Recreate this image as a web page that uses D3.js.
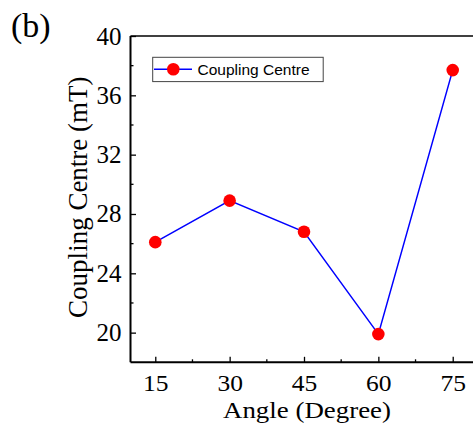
<!DOCTYPE html>
<html>
<head>
<meta charset="utf-8">
<script src="https://cdn.jsdelivr.net/npm/d3@7"></script>
<style>
  html, body { margin: 0; padding: 0; background: #fff; }
  svg { display: block; }
</style>
</head>
<body>
<svg id="chart" width="473" height="430"></svg>
<script>
const angles = [15, 30, 45, 60, 75];
const couplingCentre = [26.1, 28.9, 26.8, 19.9, 37.7];
const xTicks = [15, 30, 45, 60, 75];
const xMinorTicks = [22.5, 37.5, 52.5, 67.5];
const yTicks = [20, 24, 28, 32, 36, 40];
const yMinorTicks = [22, 26, 30, 34, 38];
const seriesName = "Coupling Centre";
const panelLabel = "(b)";
const xTitle = "Angle (Degree)";
const yTitle = "Coupling Centre (mT)";

(function () {
const svg = d3.select("#chart");
const mL = 130.5, mR = 477.5, mT = 36, mB = 362.3;
const x = d3.scaleLinear().domain([10, 80]).range([mL, mR]);
const y = d3.scaleLinear().domain([18, 40]).range([mB, mT]);
const serif = "'Liberation Serif', 'Times New Roman', serif";

// frame top line
svg.append("line").attr("x1", mL).attr("x2", mR).attr("y1", mT).attr("y2", mT)
  .attr("stroke", "#000").attr("stroke-width", 1.6);

// x axis
const xAxis = svg.append("g").attr("transform", `translate(0,${mB})`)
  .call(d3.axisBottom(x).tickValues(xTicks).tickSize(-5.5).tickPadding(0).tickFormat(d3.format("d")));
xAxis.select(".domain").attr("stroke-width", 2).attr("d", `M${mL},0H${mR}`);
xAxis.selectAll(".tick line").attr("stroke-width", 1.3);
xAxis.selectAll(".tick text").attr("font-family", serif).attr("font-size", 23.5).attr("fill", "#000")
  .attr("y", 29.2).attr("dy", null)
  .attr("textLength", 25.5).attr("lengthAdjust", "spacingAndGlyphs");
svg.append("g").selectAll("line").data(xMinorTicks).join("line")
  .attr("x1", d => x(d)).attr("x2", d => x(d)).attr("y1", mB).attr("y2", mB - 3)
  .attr("stroke", "#000").attr("stroke-width", 1.3);

// y axis
const yAxis = svg.append("g").attr("transform", `translate(${mL},0)`)
  .call(d3.axisLeft(y).tickValues(yTicks).tickSize(-5.5).tickPadding(9).tickFormat(d3.format("d")));
yAxis.select(".domain").attr("stroke-width", 2).attr("d", `M0,${mT}V${mB}`);
yAxis.selectAll(".tick line").attr("stroke-width", 1.3);
yAxis.selectAll(".tick text").attr("font-family", serif).attr("font-size", 25).attr("fill", "#000");
svg.append("g").selectAll("line").data(yMinorTicks).join("line")
  .attr("x1", mL).attr("x2", mL + 3).attr("y1", d => y(d)).attr("y2", d => y(d))
  .attr("stroke", "#000").attr("stroke-width", 1.3);

// titles
svg.append("text").attr("x", (x(15) + x(75)) / 2 + 3).attr("y", 418)
  .attr("text-anchor", "middle").attr("font-family", serif).attr("font-size", 23)
  .attr("textLength", 168).attr("lengthAdjust", "spacingAndGlyphs")
  .text(xTitle);
svg.append("text").attr("transform", `translate(86.5,${(mT + mB) / 2 - 2}) rotate(-90)`)
  .attr("text-anchor", "middle").attr("font-family", serif).attr("font-size", 27)
  .text(yTitle);
svg.append("text").attr("x", 11).attr("y", 37).attr("font-family", serif).attr("font-size", 34)
  .text(panelLabel);

// series
const data = angles.map((a, i) => ({ a, v: couplingCentre[i] }));
svg.append("path").datum(data)
  .attr("fill", "none").attr("stroke", "#0000ff").attr("stroke-width", 1.5)
  .attr("d", d3.line().x(d => x(d.a)).y(d => y(d.v)));
svg.append("g").selectAll("circle").data(data).join("circle")
  .attr("cx", d => x(d.a)).attr("cy", d => y(d.v)).attr("r", 6.3).attr("fill", "#ff0000");

// legend
const lg = svg.append("g");
lg.append("rect").attr("x", 152.7).attr("y", 57.3).attr("width", 170.5).attr("height", 24.3)
  .attr("fill", "#fff").attr("stroke", "#444").attr("stroke-width", 1);
lg.append("line").attr("x1", 154).attr("x2", 192).attr("y1", 69.3).attr("y2", 69.3)
  .attr("stroke", "#0000ff").attr("stroke-width", 1.5);
lg.append("circle").attr("cx", 173.3).attr("cy", 69.3).attr("r", 6.3).attr("fill", "#ff0000");
lg.append("text").attr("x", 197.5).attr("y", 75).attr("font-family", "'Liberation Sans', Arial, sans-serif")
  .attr("font-size", 15.5).text(seriesName);
})();
</script>
</body>
</html>
